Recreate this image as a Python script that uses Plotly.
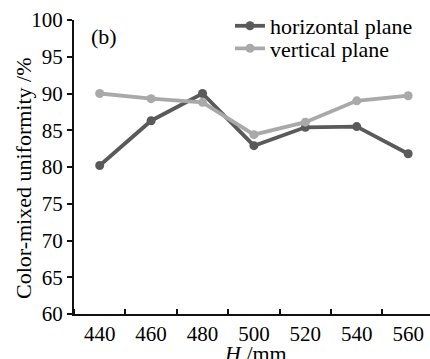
import plotly.graph_objects as go

H_mm = [440, 460, 480, 500, 520, 540, 560]
horizontal_plane = [80.2, 86.3, 90.0, 82.9, 85.4, 85.5, 81.8]
vertical_plane = [90.0, 89.3, 88.8, 84.4, 86.1, 89.0, 89.7]
y_ticks = [60, 65, 70, 75, 80, 85, 90, 95, 100]
x_boundaries = [430, 450, 470, 490, 510, 530, 550]

FONT = "Liberation Serif, Times New Roman, Times, serif"
DARK = "#5a5a5a"
LIGHT = "#a9a9a9"
TXT = "#000"
L, T, W, H = 74, 20, 356, 294


def px(xp):
    return (xp - L) / W


def py(yp):
    return (T + H - yp) / H


fig = go.Figure()
fig.add_trace(go.Scatter(x=H_mm, y=horizontal_plane, name="horizontal plane",
                         mode="lines+markers", legend="legend",
                         line=dict(color=DARK, width=3.8),
                         marker=dict(color=DARK, size=9)))
fig.add_trace(go.Scatter(x=H_mm, y=vertical_plane, name="vertical plane",
                         mode="lines+markers", legend="legend2",
                         line=dict(color=LIGHT, width=3.8),
                         marker=dict(color=LIGHT, size=9)))

leg_common = dict(xanchor="left", yanchor="middle", bgcolor="rgba(0,0,0,0)",
                  font=dict(size=22, family=FONT, color=TXT), itemwidth=30)

fig.update_layout(
    width=430, height=359,
    margin=dict(l=L, r=0, t=T, b=359 - T - H, autoexpand=False),
    plot_bgcolor="white", paper_bgcolor="white",
    font=dict(family=FONT, size=21, color=TXT),
    showlegend=True,
    legend=dict(x=px(230), y=py(26), **leg_common),
    legend2=dict(x=px(230), y=py(48.5), **leg_common),
    xaxis=dict(range=[430, 568.5], tickvals=H_mm, ticktext=[str(v) for v in H_mm],
               ticks="", showgrid=False, zeroline=False, automargin=False,
               showline=True, linecolor="#111", linewidth=2,
               tickfont=dict(size=21, family=FONT, color=TXT),
               minor=dict(tickvals=x_boundaries, ticks="inside", ticklen=5,
                          tickwidth=2, tickcolor="#111", showgrid=False)),
    yaxis=dict(range=[60, 100], tickvals=y_ticks, ticks="outside", ticklen=5,
               tickwidth=2, tickcolor="#111", showgrid=False, zeroline=False,
               automargin=False, showline=True, linecolor="#111", linewidth=2,
               tickfont=dict(size=21, family=FONT, color=TXT)),
    annotations=[
        dict(text="(b)", x=px(104), y=py(37), xref="paper", yref="paper",
             showarrow=False, font=dict(size=22, family=FONT, color=TXT),
             xanchor="center", yanchor="middle"),
        dict(text="Color-mixed uniformity /%", x=px(24), y=py(178),
             xref="paper", yref="paper", textangle=-90, showarrow=False,
             font=dict(size=22, family=FONT, color=TXT), xanchor="center", yanchor="middle"),
        dict(text="<i>H</i> /mm", x=px(255), y=py(339), xref="paper", yref="paper",
             showarrow=False, font=dict(size=22, family=FONT, color=TXT),
             xanchor="center", yanchor="top"),
    ],
)

fig.write_html("out.html", post_script="document.body.style.margin='0';",
               config={"displayModeBar": False, "staticPlot": True})
